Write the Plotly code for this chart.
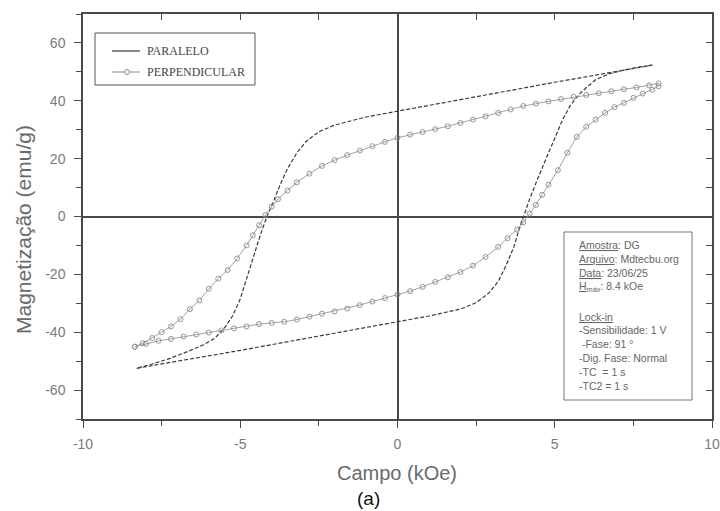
import plotly.graph_objects as go

# ---- data ----
par_up_x = [8.1, 7.5, 7.0, 6.0, 5.0, 4.0, 3.0, 2.0, 1.0, 0.0, -1.0, -2.0, -2.5, -2.9, -3.2, -3.5,
            -3.75, -3.95, -4.15, -4.35, -4.55, -4.75, -5.0, -5.25, -5.5, -5.8, -6.2, -6.7, -7.3, -7.8, -8.3]
par_up_y = [52.3, 51.2, 50.2, 48.3, 46.4, 44.4, 42.4, 40.4, 38.4, 36.5, 34.4, 31.6, 29.3, 26.0, 22.0, 16.5,
            10.5, 5.0, 0.0, -6.0, -13.0, -20.0, -28.5, -34.5, -38.5, -42.0, -44.5, -46.8, -49.3, -51.0, -52.5]
par_dn_x = [-8.3, -7.0, -6.0, -5.0, -4.0, -3.0, -2.0, -1.0, 0.0, 1.0, 2.0, 2.5, 2.9, 3.2, 3.45, 3.7,
            3.85, 4.0, 4.2, 4.4, 4.6, 4.8, 5.0, 5.25, 5.5, 5.8, 6.0, 6.3, 6.7, 7.2, 7.7, 8.1]
par_dn_y = [-52.5, -50.0, -48.2, -46.3, -44.3, -42.3, -40.3, -38.4, -36.5, -34.4, -32.0, -29.8, -26.5, -22.5, -17.0, -10.5,
            -5.0, 0.0, 6.0, 11.5, 17.0, 22.0, 27.0, 33.5, 38.5, 42.5, 44.5, 47.3, 49.2, 50.6, 51.7, 52.3]

per_up_x = [8.3, 8.0, 7.6, 7.2, 6.8, 6.4, 6.0, 5.6, 5.2, 4.8, 4.4, 4.0, 3.6, 3.2, 2.8, 2.4, 2.0, 1.6, 1.2,
            0.8, 0.4, 0.0, -0.4, -0.8, -1.2, -1.6, -2.0, -2.4, -2.8, -3.2, -3.5, -3.8, -4.0, -4.2, -4.4,
            -4.6, -4.8, -5.1, -5.4, -5.7, -6.0, -6.3, -6.6, -6.9, -7.2, -7.5, -7.8, -8.1, -8.35]
per_up_y = [46.0, 45.3, 44.6, 44.0, 43.3, 42.6, 42.0, 41.4, 40.6, 39.8, 39.0, 38.2, 37.0, 35.8, 34.6, 33.5, 32.3, 31.2, 30.2,
            29.2, 28.3, 27.2, 25.8, 24.3, 22.8, 21.2, 19.5, 17.5, 14.8, 11.8, 9.0, 6.0, 3.5, 0.5, -3.0,
            -6.5, -10.0, -14.5, -18.5, -21.5, -25.0, -29.0, -32.0, -35.5, -38.0, -40.0, -42.0, -43.8, -45.0]
per_dn_x = [-8.35, -8.0, -7.6, -7.2, -6.8, -6.4, -6.0, -5.6, -5.2, -4.8, -4.4, -4.0, -3.6, -3.2, -2.8, -2.4, -2.0,
            -1.6, -1.2, -0.8, -0.4, 0.0, 0.4, 0.8, 1.2, 1.6, 2.0, 2.4, 2.8, 3.2, 3.5, 3.8, 4.0, 4.2, 4.4,
            4.6, 4.8, 5.1, 5.4, 5.7, 6.0, 6.3, 6.6, 6.9, 7.2, 7.5, 7.8, 8.1, 8.3]
per_dn_y = [-45.0, -44.0, -43.0, -42.3, -41.5, -40.8, -40.1, -39.4, -38.7, -38.0, -37.2, -36.8, -36.4, -35.6, -34.6, -33.6, -32.8,
            -31.8, -30.6, -29.4, -28.2, -27.0, -25.8, -24.3, -22.6, -21.0, -19.2, -17.0, -14.0, -10.5, -7.5, -4.5, -2.0, 1.0, 4.0,
            7.5, 11.0, 16.0, 22.0, 27.5, 31.0, 33.5, 35.8, 37.8, 39.3, 41.0, 42.5, 43.8, 45.0]

series_names = ["PARALELO", "PERPENDICULAR"]
x_ticks = [-10, -5, 0, 5, 10]
x_tick_text = ["-10", "-5", "0", "5", "10"]
y_ticks = [-60, -40, -20, 0, 20, 40, 60]
y_tick_text = ["-60", "-40", "-20", "0", "20", "40", "60"]

info_lines = ["<u>Amostra</u>: DG", "<u>Arquivo</u>: Mdtecbu.org", "<u>Data</u>: 23/06/25",
              "<u>H</u><sub>máx</sub>: 8.4 kOe", "<u>Lock-in</u>", "-Sensibilidade: 1 V",
              " -Fase: 91 °", "-Dig. Fase: Normal", "-TC  = 1 s", "-TC2 = 1 s"]

AX = "#4a4a4a"
TXT = "#7a7a7a"

# plot-area geometry (pixels) used to place decorations
L, R, T, B = 83, 712, 14, 419
def px(x):
    return (x - L) / (R - L)
def py(y):
    return (B - y) / (B - T)

fig = go.Figure()

par_x = par_up_x + par_dn_x
par_y = par_up_y + par_dn_y
per_x = per_up_x + [None] + per_dn_x
per_y = per_up_y + [None] + per_dn_y

fig.add_trace(go.Scatter(x=par_x, y=par_y, mode="lines", name=series_names[0], showlegend=False,
                         line=dict(color="#3a3a3a", width=1.2, dash="4px,2px")))
fig.add_trace(go.Scatter(x=per_x, y=per_y, mode="lines+markers", name=series_names[1], showlegend=False,
                         line=dict(color="#8a8a8a", width=0.8),
                         marker=dict(symbol="circle-open", size=5, color="#8a8a8a",
                                     line=dict(width=0.9))))
# mirrored axes (inside ticks)
fig.add_trace(go.Scatter(x=[None], y=[None], xaxis="x2", yaxis="y2", showlegend=False,
                         hoverinfo="skip"))

fig.update_layout(
    width=720, height=511,
    margin=dict(l=L, r=720 - R, t=T, b=511 - B, autoexpand=False),
    paper_bgcolor="white", plot_bgcolor="white",
    font=dict(family="Liberation Sans, Arial", color=TXT),
    showlegend=False,
    xaxis=dict(range=[-10, 10], tickvals=x_ticks, ticktext=x_tick_text, ticks="outside", ticklen=7,
               tickwidth=1.2, tickcolor=AX, showline=True, linecolor=AX, linewidth=1.5, showgrid=False,
               zeroline=True, zerolinecolor=AX, zerolinewidth=1.5, automargin=False,
               ticklabelstandoff=4,
               minor=dict(dtick=2.5, tick0=0, ticks="outside", ticklen=5, tickcolor=AX, tickwidth=1),
               tickfont=dict(size=14, color=TXT)),
    yaxis=dict(range=[-70, 70], tickvals=y_ticks, ticktext=y_tick_text, ticks="outside", ticklen=7,
               tickwidth=1.2, tickcolor=AX, showline=True, linecolor=AX, linewidth=1.5, showgrid=False,
               zeroline=True, zerolinecolor=AX, zerolinewidth=1.5, automargin=False,
               ticklabelstandoff=6,
               minor=dict(dtick=10, tick0=0, ticks="outside", ticklen=5, tickcolor=AX, tickwidth=1),
               tickfont=dict(size=14, color=TXT)),
    xaxis2=dict(range=[-10, 10], overlaying="x", side="top", anchor="y", ticks="inside",
                dtick=2.5, tick0=0, ticklen=6, tickcolor=AX, showticklabels=False,
                showline=True, linecolor=AX, linewidth=1.5, showgrid=False, zeroline=False),
    yaxis2=dict(range=[-70, 70], overlaying="y", side="right", anchor="x", ticks="inside",
                dtick=10, tick0=0, ticklen=6, tickcolor=AX, showticklabels=False,
                showline=True, linecolor=AX, linewidth=1.5, showgrid=False, zeroline=False),
)

# axis titles
fig.add_annotation(xref="paper", yref="paper", x=px(397), y=py(473), text="Campo (kOe)",
                   showarrow=False, font=dict(size=20, color="#6a6a6a"),
                   xanchor="center", yanchor="middle")
fig.add_annotation(xref="paper", yref="paper", x=px(23), y=py(230), text="Magnetização (emu/g)",
                   showarrow=False, font=dict(size=21, color="#6a6a6a"), textangle=-90,
                   xanchor="center", yanchor="middle")
fig.add_annotation(xref="paper", yref="paper", x=px(368), y=py(498), text="(a)",
                   showarrow=False, font=dict(size=19, color="#111"),
                   xanchor="center", yanchor="middle")

# legend box drawn by hand
fig.add_shape(type="rect", xref="paper", yref="paper", x0=px(95), x1=px(255), y0=py(33), y1=py(85),
              line=dict(color="#555", width=1), fillcolor="white", layer="above")
fig.add_shape(type="line", xref="paper", yref="paper", x0=px(112), x1=px(140), y0=py(51), y1=py(51),
              line=dict(color="#3a3a3a", width=1.2), layer="above")
fig.add_shape(type="line", xref="paper", yref="paper", x0=px(112), x1=px(140), y0=py(72), y1=py(72),
              line=dict(color="#8a8a8a", width=1), layer="above")
fig.add_shape(type="circle", xref="paper", yref="paper", x0=px(124.5), x1=px(129.5),
              y0=py(69.5), y1=py(74.5), line=dict(color="#8a8a8a", width=1), fillcolor="white",
              layer="above")
for name, yy in zip(series_names, [51, 72]):
    fig.add_annotation(xref="paper", yref="paper", x=px(145), y=py(yy), text=name, showarrow=False,
                       xanchor="left", yanchor="middle",
                       font=dict(family="Liberation Serif, Times New Roman", size=12, color="#444"))

# info box
fig.add_shape(type="rect", xref="paper", yref="paper", x0=px(564), x1=px(692), y0=py(232), y1=py(400),
              line=dict(color="#777", width=1), fillcolor="white", layer="above")
info_y = [245, 259, 273, 287, 317, 330, 344, 358, 372, 386]
for line, yy in zip(info_lines, info_y):
    fig.add_annotation(xref="paper", yref="paper", x=px(577), y=py(yy), text=line, showarrow=False,
                       xanchor="left", yanchor="middle", font=dict(size=10.5, color="#666"))

fig.write_html("out.html", config={"displayModeBar": False},
               post_script="document.body.style.margin='0';document.body.style.overflow='hidden';")
